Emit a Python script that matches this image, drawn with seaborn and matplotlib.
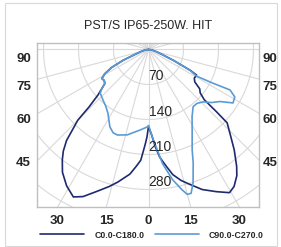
import numpy as np
import pandas as pd
import matplotlib
matplotlib.use("Agg")
import matplotlib.pyplot as plt
import seaborn as sb

sb.set_style("white")
plt.rcParams['font.family'] = ['Liberation Sans', 'DejaVu Sans']

# photometric data (angle in degrees from nadir, intensity in cd/klm)
c0_angle = [-90, -85, -80, -75, -70, -67, -64, -61, -58, -55, -52, -50, -48, -46, -45, -42, -40, -38, -35,
            -31, -27, -24, -20, -16, -13, -8.5, -6, -4, -2, -1, 0, 2, 4, 6, 8.5, 11, 14, 17, 21, 25.5,
            29.5, 32, 35, 37, 40.5, 44, 47, 47.5, 48, 50, 52.5, 55, 58, 62, 63.5, 66.5, 70, 75, 80, 85, 90]
c0_value = [0, 3, 8, 15, 28, 55, 82, 100, 110, 108, 111, 122, 136, 165, 200, 245, 265, 280, 300,
            318, 331, 322, 302, 285, 272, 252, 235, 222, 190, 175, 154, 170, 195, 217, 235, 255, 270, 282, 300, 315,
            329, 323, 308, 293, 264, 235, 215, 185, 150, 135, 129, 113, 108, 109, 93, 54, 28, 15, 8, 3, 0]

c90_angle = [-90, -85, -80, -75, -70, -67, -64, -61, -58, -55, -52, -50, -48, -42, -37, -32.5, -29, -26.5, -23,
             -20, -14, -6, -1, 0, 3, 7, 10.5, 13.5, 15, 16.5, 18.5, 21.5, 23.5, 28.5, 33, 38, 42, 46, 50,
             54, 57.7, 61.2, 63.6, 62.3, 61, 63.4, 66.5, 70, 75, 80, 85, 90]
c90_value = [0, 3, 8, 15, 28, 55, 82, 100, 110, 108, 111, 122, 130, 136, 142, 151, 163, 173, 181,
             182, 176, 162, 155, 152, 180, 230, 265, 289, 300, 300, 281, 244, 219, 183, 160, 145, 145, 151, 165,
             177, 200, 197, 182, 143, 110, 93, 54, 28, 15, 8, 3, 0]

series_names = ['C0.0-C180.0', 'C90.0-C270.0']
ring_values = [70, 140, 210, 280, 350]
ring_labels = ['70', '140', '210', '280']
side_labels = ['90', '75', '60', '45']
bottom_labels = ['30', '15', '0', '15', '30']
bottom_angles = [-30, -15, 0, 15, 30]

rows = []
for name, ang, val in [(series_names[0], c0_angle, c0_value), (series_names[1], c90_angle, c90_value)]:
    a = np.radians(ang)
    v = np.array(val, dtype=float)
    for i in range(len(v)):
        rows.append({'series': name, 'order': i, 'x': v[i] * np.sin(a[i]), 'y': -v[i] * np.cos(a[i])})
df = pd.DataFrame(rows)

fig = plt.figure(figsize=(2.81, 2.47), dpi=100)
fig.patch.set_facecolor('white')
fig.add_artist(plt.Rectangle((5 / 281, 1 / 247), 272 / 281, 243 / 247, transform=fig.transFigure,
                             fill=False, edgecolor='#d9d9d9', lw=0.8))

ax = fig.add_axes([36.5 / 281, 1 - 207 / 247, 222 / 281, 164 / 247])
ax.set_xlim(-224, 220)
ax.set_ylim(-315, 13)

# polar grid
t = np.linspace(0, 2 * np.pi, 400)
for r in ring_values:
    ax.plot(r * np.cos(t), r * np.sin(t), color='#d9d9d9', lw=0.8, zorder=1)
for deg in range(0, 360, 15):
    a = np.radians(deg)
    ax.plot([0, 600 * np.sin(a)], [0, -600 * np.cos(a)], color='#d9d9d9', lw=0.8, zorder=1)

sb.lineplot(data=df, x='x', y='y', hue='series', units='series', sort=False, estimator=None,
            palette=['#1f2a6e', '#5b9bd5'], lw=1.2, ax=ax, zorder=3)
handles, labels = ax.get_legend_handles_labels()
ax.get_legend().remove()

for r, lab in zip(ring_values, ring_labels):
    ax.text(0, -r + 16, lab, ha='left', va='center', fontsize=10, color='#262626', zorder=4)

side_y = [-16, -71, -137, -223]
ax.set_yticks(side_y)
ax.set_yticklabels(side_labels, fontweight='bold', fontsize=9.5)
ax.tick_params(axis='y', length=0, pad=4)
ax2 = ax.secondary_yaxis('right')
ax2.set_yticks(side_y)
ax2.set_yticklabels(side_labels, fontweight='bold', fontsize=9.5)
ax2.tick_params(length=0, pad=3)
ax2.spines['right'].set_visible(False)

ax.set_xticks([315 * np.tan(np.radians(b)) for b in bottom_angles])
ax.set_xticklabels(bottom_labels, fontweight='bold', fontsize=9.5)
ax.tick_params(axis='x', length=0, pad=6)
ax.set_xlabel('')
ax.set_ylabel('')

for s in ax.spines.values():
    s.set_color('#bfbfbf')
    s.set_linewidth(1)

fig.text(148.5 / 281, 1 - 26 / 247, 'PST/S IP65-250W. HIT', ha='center', va='center', fontsize=9, color='#262626')
fig.legend(handles, labels, loc='center', bbox_to_anchor=(152 / 281, 1 - 235 / 247), ncol=2, frameon=False,
           prop={'size': 6.3, 'weight': 'bold'}, handlelength=5, handletextpad=1.2, columnspacing=1.2,
           borderpad=0.1)

fig.savefig('out.png', dpi=100)
